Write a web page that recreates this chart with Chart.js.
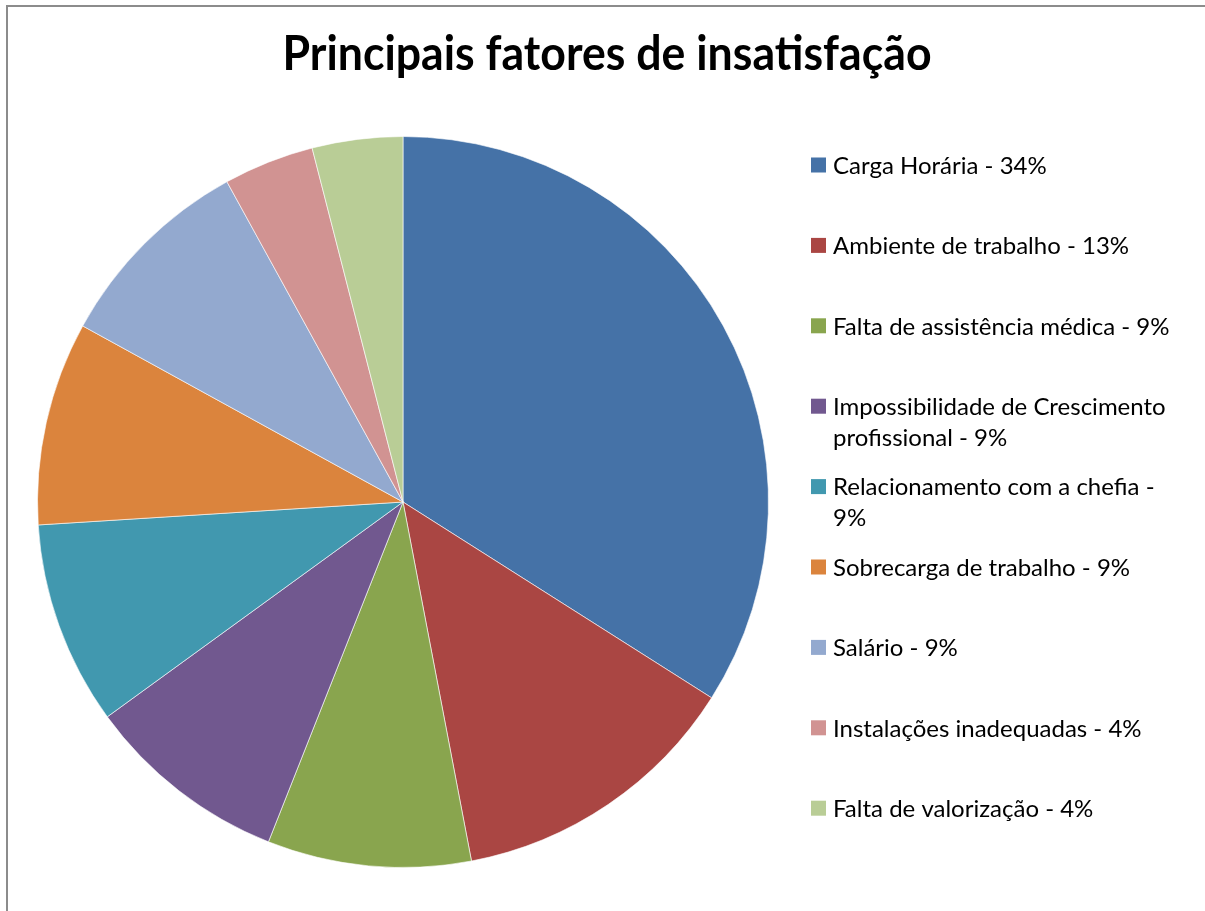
<!DOCTYPE html>
<html>
<head>
  <meta charset="utf-8" />
  <title>Principais fatores de insatisfação</title>
  <script src="https://cdn.jsdelivr.net/npm/chart.js"></script>
  <style>
    body { margin: 0; background: #fff; }
    #wrap { position: relative; width: 1205px; height: 911px; overflow: hidden; }
    #frame {
      position: absolute; left: 6px; top: 5px; width: 1300px; height: 1000px;
      border-left: 2px solid #8c8c8c; border-top: 2px solid #8c8c8c;
      pointer-events: none;
    }
    canvas { position: absolute; left: 0; top: 0; }
  </style>
</head>
<body>
  <div id="wrap">
    <canvas id="pieChart" width="1205" height="911"></canvas>
    <div id="frame"></div>
  </div>

  <script>
    // Data
    const labels = [
      'Carga Horária',
      'Ambiente de trabalho',
      'Falta de assistência médica',
      'Impossibilidade de Crescimento profissional',
      'Relacionamento com a chefia',
      'Sobrecarga de trabalho',
      'Salário',
      'Instalações inadequadas',
      'Falta de valorização'
    ];
    const values = [34, 13, 9, 9, 9, 9, 9, 4, 4];
    const colors = ['#4572A7', '#AA4643', '#89A54E', '#71588F', '#4198AF',
                    '#DB843D', '#93A9CF', '#D19392', '#B9CD96'];
    const titleText = 'Principais fatores de insatisfação';

    const FONT = 'Lato, Calibri, "Noto Sans", sans-serif';

    // Title centred over the whole canvas (the built-in one sits over the pie area)
    const pageTitle = {
      id: 'pageTitle',
      afterDraw(chart, args, opts) {
        const ctx = chart.ctx;
        ctx.save();
        ctx.font = `bold ${opts.size}px ${FONT}`;
        ctx.fillStyle = '#000';
        ctx.textAlign = 'center';
        ctx.textBaseline = 'alphabetic';
        ctx.translate(opts.x, opts.y);
        ctx.scale(opts.squeeze, 1);
        ctx.fillText(titleText, 0, 0);
        ctx.restore();
      }
    };

    // Legend on the right, drawn on the canvas (wraps long entries)
    const sideLegend = {
      id: 'sideLegend',
      afterDraw(chart, args, opts) {
        const ctx = chart.ctx;
        const total = values.reduce((a, b) => a + b, 0);
        ctx.save();
        ctx.font = `${opts.size}px ${FONT}`;
        ctx.textBaseline = 'middle';
        labels.forEach((name, i) => {
          const text = `${name} - ${Math.round(values[i] / total * 100)}%`;
          const y = opts.top + i * opts.step;
          ctx.fillStyle = colors[i];
          ctx.fillRect(opts.x, y - opts.box / 2, opts.box, opts.box);
          ctx.fillStyle = '#000';
          // word wrap
          const words = text.split(' ');
          let line = '', lines = [];
          words.forEach(w => {
            const test = line ? line + ' ' + w : w;
            if (ctx.measureText(test).width > opts.maxWidth && line) {
              lines.push(line);
              line = w;
            } else {
              line = test;
            }
          });
          lines.push(line);
          lines.forEach((l, k) => {
            ctx.fillText(l, opts.x + opts.box + 7, y + 1 + k * opts.lineHeight);
          });
        });
        ctx.restore();
      }
    };

    new Chart(document.getElementById('pieChart'), {
      type: 'pie',
      data: {
        labels: labels,
        datasets: [{
          data: values,
          backgroundColor: colors,
          borderColor: 'rgba(255,255,255,0.6)',
          borderWidth: 1
        }]
      },
      options: {
        responsive: false,
        animation: false,
        layout: { padding: { left: 37, right: 436, top: 136, bottom: 43 } },
        plugins: {
          legend: { display: false },
          tooltip: { enabled: false },
          title: { display: false },
          pageTitle: { x: 607, y: 70, size: 48, squeeze: 0.93 },
          sideLegend: {
            x: 811, top: 165, step: 80.4, box: 15,
            size: 24, lineHeight: 31, maxWidth: 348
          }
        }
      },
      plugins: [pageTitle, sideLegend]
    });
  </script>
</body>
</html>
